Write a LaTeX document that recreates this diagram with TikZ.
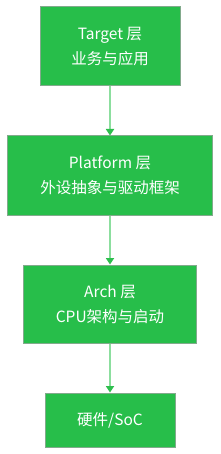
\documentclass[tikz,border=0pt]{standalone}
\usepackage{fontspec}
\setmainfont{Noto Sans CJK SC}
\usepackage{tikz}
\usetikzlibrary{arrows.meta,positioning}

\definecolor{layerfill}{RGB}{39,190,74}
\definecolor{layerline}{RGB}{130,170,140}
\definecolor{linkline}{RGB}{140,222,158}
\definecolor{linkhead}{RGB}{46,191,78}

\begin{document}
\begin{tikzpicture}[
    x=1pt, y=1pt,
    node distance=49pt,
    font=\fontsize{15.5}{25}\selectfont,
    layer/.style={
        draw=layerline,
        line width=1pt,
        fill=layerfill,
        text=white,
        align=center,
        inner xsep=0pt,
        minimum height=79pt
    },
    link/.style={
        draw=linkline,
        line width=1.6pt,
        -{Triangle[length=6.5pt,width=8.5pt,color=linkhead,fill=linkhead,line width=0pt]}
    }
]
    \useasboundingbox (0,0) rectangle (220,-454);

    \node[layer, minimum width=140pt] (target) at (110,-46.5) {Target 层\\业务与应用};
    \node[layer, minimum width=205pt, below=of target] (platform) {Platform 层\\外设抽象与驱动框架};
    \node[layer, minimum width=173pt, below=of platform, minimum height=78pt] (arch) {Arch 层\\CPU架构与启动};
    \node[layer, minimum width=130pt, below=of arch, minimum height=54pt] (hw) {硬件/SoC};

    \draw[link] (target) -- (platform);
    \draw[link] (platform) -- (arch);
    \draw[link] (arch) -- (hw);
\end{tikzpicture}
\end{document}
